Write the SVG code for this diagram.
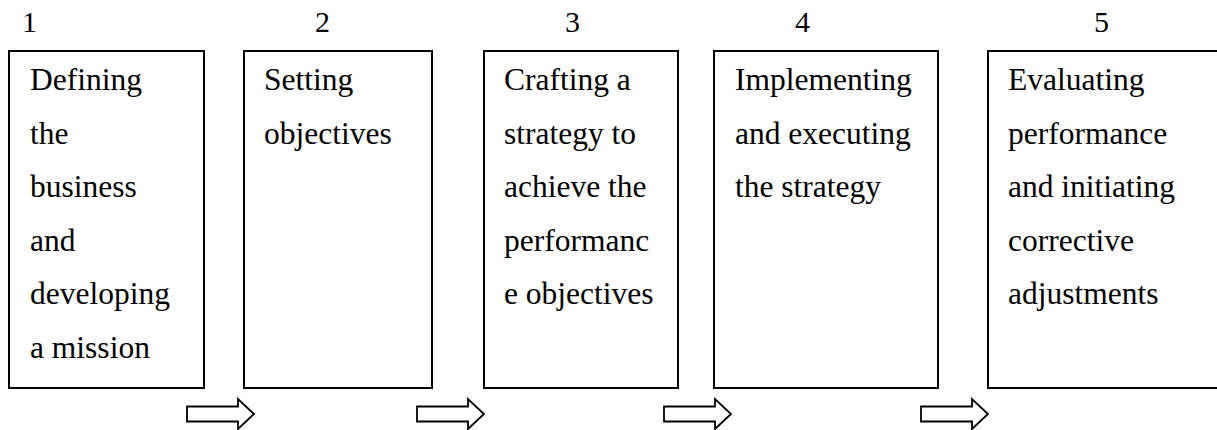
<svg xmlns="http://www.w3.org/2000/svg" width="1217" height="430" viewBox="0 0 1217 430">
<style>
.box{fill:#fff;stroke:#000;stroke-width:2}
.t{font-family:"Liberation Serif","Times New Roman",serif;font-size:31.5px;fill:#000}
.n{font-family:"Liberation Serif","Times New Roman",serif;font-size:30px;fill:#000}
.arr{fill:#fff;stroke:#000;stroke-width:1.8;stroke-linejoin:miter}
</style>
<defs>
<polygon id="arrow" points="0,7.5 51,7.5 51,0 67,15 51,30 51,22.5 0,22.5"/>
</defs>
<rect width="1217" height="430" fill="#fff"/>
<g id="node1">
<text class="n" x="22" y="32">1</text>
<rect class="box" x="9" y="51" width="195" height="337"/>
<text class="t"><tspan x="30" y="90">Defining</tspan><tspan x="30" y="143.5">the</tspan><tspan x="30" y="197">business</tspan><tspan x="30" y="250.5">and</tspan><tspan x="30" y="304">developing</tspan><tspan x="30" y="357.5">a mission</tspan></text>
</g>
<g id="node2">
<text class="n" x="315" y="32">2</text>
<rect class="box" x="244" y="51" width="188" height="337"/>
<text class="t"><tspan x="264" y="90">Setting</tspan><tspan x="264" y="143.5">objectives</tspan></text>
</g>
<g id="node3">
<text class="n" x="565" y="32">3</text>
<rect class="box" x="484" y="51" width="194" height="337"/>
<text class="t"><tspan x="504" y="90">Crafting a</tspan><tspan x="504" y="143.5">strategy to</tspan><tspan x="504" y="197">achieve the</tspan><tspan x="504" y="250.5">performanc</tspan><tspan x="504" y="304">e objectives</tspan></text>
</g>
<g id="node4">
<text class="n" x="795" y="32">4</text>
<rect class="box" x="714" y="51" width="224" height="337"/>
<text class="t"><tspan x="735" y="90">Implementing</tspan><tspan x="735" y="143.5">and executing</tspan><tspan x="735" y="197">the strategy</tspan></text>
</g>
<g id="node5">
<text class="n" x="1094" y="32">5</text>
<rect class="box" x="988" y="51" width="240" height="337"/>
<text class="t"><tspan x="1008" y="90">Evaluating</tspan><tspan x="1008" y="143.5">performance</tspan><tspan x="1008" y="197">and initiating</tspan><tspan x="1008" y="250.5">corrective</tspan><tspan x="1008" y="304">adjustments</tspan></text>
</g>
<g id="connectors">
<use href="#arrow" class="arr" x="187" y="399"/>
<use href="#arrow" class="arr" x="417" y="399"/>
<use href="#arrow" class="arr" x="664" y="399"/>
<use href="#arrow" class="arr" x="921" y="399"/>
</g>
</svg>
